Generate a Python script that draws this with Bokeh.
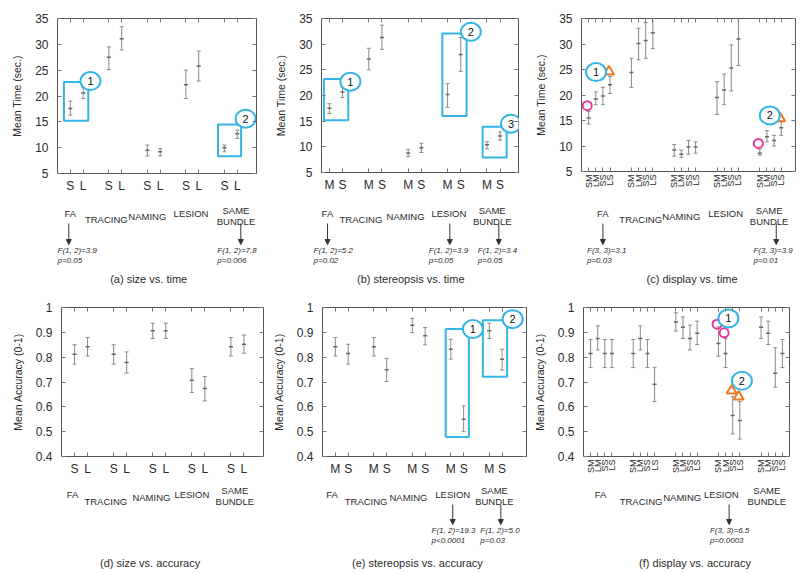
import numpy as np
from bokeh.plotting import figure
from bokeh.layouts import row, column
from bokeh.models import (FixedTicker, LinearAxis, Range1d, Arrow, NormalHead,
                          ColumnDataSource)
from bokeh.core.properties import value
from bokeh.embed import file_html
from bokeh.resources import INLINE

# ---------------- data ----------------
groups = ["FA", "TRACING", "NAMING", "LESION", "SAME\nBUNDLE"]
size_levels = ["S", "L"]
stereo_levels = ["M", "S"]
display_levels = ["SM", "LM", "SS", "LS"]

time_ticks = [5, 10, 15, 20, 25, 30, 35]
time_tick_labels = ["5", "10", "15", "20", "25", "30", "35"]
acc_ticks = [0.4, 0.5, 0.6, 0.7, 0.8, 0.9, 1.0]
acc_tick_labels = ["0.4", "0.5", "0.6", "0.7", "0.8", "0.9", "1"]

# (a) size vs. time
a_mean = [17.6, 20.6, 27.5, 31.1, 9.5, 9.2, 22.2, 25.8, 10.0, 12.7]
a_lo = [16.3, 19.5, 25.1, 28.9, 8.4, 8.4, 19.5, 22.9, 9.2, 11.8]
a_hi = [19.0, 21.6, 29.5, 33.4, 10.5, 9.8, 25.0, 28.7, 10.5, 13.4]

# (b) stereopsis vs. time
b_mean = [17.5, 20.7, 27.1, 31.3, 8.8, 9.8, 20.2, 28.0, 10.4, 12.1]
b_lo = [16.5, 19.6, 25.0, 29.0, 8.1, 8.9, 17.7, 24.7, 9.6, 11.3]
b_hi = [18.4, 21.6, 29.2, 33.7, 9.5, 10.7, 22.3, 31.3, 11.0, 12.9]

# (c) display vs. time
c_mean = [15.5, 19.2, 19.8, 22.0, 24.4, 30.1, 30.7, 32.2, 9.2, 8.4, 9.8, 9.8,
          19.5, 21.0, 25.3, 31.0, 8.6, 11.8, 11.1, 13.6]
c_lo = [14.3, 18.1, 18.1, 20.3, 21.5, 26.9, 27.2, 29.1, 8.0, 7.8, 8.4, 8.6,
        16.2, 18.1, 20.8, 25.8, 8.2, 10.8, 10.0, 12.1]
c_hi = [16.8, 20.6, 21.5, 23.6, 27.2, 33.1, 34.2, 35.1, 10.3, 9.2, 11.1, 10.8,
        22.6, 24.1, 29.8, 35.4, 9.4, 13.0, 12.1, 14.9]
c_circ_idx = [0, 16]
c_circ_val = [17.9, 10.5]
c_tri_idx = [3, 19]
c_tri_val = [24.6, 15.4]

# (d) size vs. accuracy
d_mean = [0.812, 0.842, 0.812, 0.779, 0.906, 0.906, 0.707, 0.674, 0.842, 0.852]
d_lo = [0.772, 0.805, 0.772, 0.736, 0.875, 0.875, 0.658, 0.624, 0.805, 0.816]
d_hi = [0.850, 0.879, 0.850, 0.821, 0.937, 0.937, 0.754, 0.722, 0.879, 0.889]

# (e) stereopsis vs. accuracy
e_mean = [0.842, 0.815, 0.842, 0.749, 0.929, 0.886, 0.832, 0.550, 0.906, 0.792]
e_lo = [0.805, 0.772, 0.805, 0.702, 0.899, 0.850, 0.792, 0.500, 0.875, 0.748]
e_hi = [0.879, 0.852, 0.879, 0.795, 0.956, 0.919, 0.872, 0.604, 0.937, 0.832]

# (f) display vs. accuracy
f_mean = [0.815, 0.875, 0.815, 0.815, 0.815, 0.875, 0.815, 0.691, 0.942, 0.920,
          0.875, 0.896, 0.855, 0.815, 0.565, 0.545, 0.920, 0.896, 0.735, 0.815]
f_lo = [0.758, 0.829, 0.758, 0.758, 0.758, 0.829, 0.758, 0.621, 0.905, 0.875,
        0.829, 0.851, 0.804, 0.758, 0.491, 0.470, 0.875, 0.851, 0.679, 0.758]
f_hi = [0.871, 0.926, 0.871, 0.871, 0.871, 0.926, 0.871, 0.759, 0.979, 0.962,
        0.929, 0.945, 0.922, 0.875, 0.641, 0.621, 0.962, 0.945, 0.838, 0.871]
f_circ_idx = [12, 13]
f_circ_val = [0.933, 0.898]
f_tri_idx = [14, 15]
f_tri_val = [0.665, 0.641]

# annotations (boxes, numbered circles, tests)
a_boxes = [(0.5, 2.4, 15.2, 22.7), (12.5, 14.3, 8.35, 14.5)]
a_marks = [(2.57, 22.9, "1"), (14.65, 15.6, "2")]
b_boxes = [(0.58, 2.44, 15.2, 23.2), (9.6, 11.45, 16.0, 32.1), (12.67, 14.5, 7.9, 13.9)]
b_marks = [(2.6, 22.7, "1"), (11.77, 32.4, "2"), (14.83, 14.5, "3")]
c_marks = [(2.04, 24.5, "1"), (26.4, 16.0, "2")]
e_boxes = [(9.6, 11.41, 0.479, 0.913), (12.5, 14.39, 0.721, 0.949)]
e_marks = [(11.72, 0.913, "1"), (14.82, 0.953, "2")]
f_marks = [(20.4, 0.956, "1"), (22.3, 0.705, "2")]

# group-label centres, in each panel's x units
a_gx = [1.0, 3.8, 7.0, 10.4, 13.9]
b_gx = [0.85, 3.4, 6.8, 10.1, 13.4]
c_gx = [3.0, 8.3, 14.0, 20.2, 26.3]
d_gx = [0.85, 3.4, 6.9, 10.0, 13.3]
e_gx = [0.75, 3.4, 6.7, 10.15, 13.4]
f_gx = [2.4, 8.1, 13.9, 19.4, 25.8]

# tests: (arrow x, text left x, F text, p text)
a_tests = [(0.88, 0.0, "F(1, 2)=3.9", "p=0.05"), (14.28, 12.45, "F(1, 2)=7.8", "p=0.006")]
b_tests = [(0.86, -0.2, "F(1, 2)=5.2", "p=0.02"), (10.17, 8.57, "F(1, 2)=3.9", "p=0.05"),
           (13.9, 12.3, "F(1, 2)=3.4", "p=0.05")]
c_tests = [(3.0, 0.77, "F(3, 3)=3.1", "p=0.03"), (27.3, 24.1, "F(3, 3)=3.9", "p=0.01")]
e_tests = [(10.15, 8.5, "F(1, 2)=19.3", "p<0.0001"), (13.9, 12.3, "F(1, 2)=5.0", "p=0.03")]
f_tests = [(20.5, 17.8, "F(3, 3)=6.5", "p=0.0003")]

captions = ["(a) size vs. time", "(b) stereopsis vs. time", "(c) display vs. time",
            "(d) size vs. accuracy", "(e) stereopsis vs. accuracy", "(f) display vs. accuracy"]

# ---------------- style ----------------
FONT = "Liberation Sans"
CYAN = "#35b4e6"
PINK = "#e8379a"
ORANGE = "#f07a1e"
EB = "#8a8a8a"
TXT = "#2a2a2a"
ARR = "#333333"
MAIN_BB = 24  # room for the tick labels under each frame


def make_panel(mean, lo, hi, levels, step, xr, yticks, yticklabels, ylabel,
               bl, fw, br, bt, fh, row_h, group_x, group_y, arrow_y, test_y, cap_x, caption,
               boxes=(), marks=(), tests=(), circ=None, tri=None, vertical=False):
    yr = (yticks[0], yticks[-1])
    width = bl + fw + br
    main_h = bt + fh + MAIN_BB
    p = figure(width=width, height=main_h,
               x_range=Range1d(*xr), y_range=Range1d(*yr),
               output_backend="svg", toolbar_location=None, tools="",
               min_border_left=bl, min_border_right=br, min_border_top=bt,
               min_border_bottom=MAIN_BB)
    p.xgrid.visible = False
    p.ygrid.visible = False
    p.outline_line_color = "#555555"
    p.outline_line_width = 1
    p.background_fill_color = "white"
    p.border_fill_color = "white"

    n = len(levels)
    pos = [g * step + i + 1 for g in range(len(groups)) for i in range(n)]
    labels = levels * len(groups)

    # axes
    xa = p.xaxis[0]
    xa.ticker = FixedTicker(ticks=pos)
    xa.major_label_overrides = {x: l for x, l in zip(pos, labels)}
    ya = p.yaxis[0]
    ya.ticker = FixedTicker(ticks=yticks)
    ya.major_label_overrides = {t: l for t, l in zip(yticks, yticklabels)}
    ya.axis_label = ylabel
    ya.axis_label_text_font = FONT
    ya.axis_label_text_font_size = "10.5px"
    ya.axis_label_text_font_style = "normal"
    ya.axis_label_text_color = TXT
    ya.axis_label_standoff = 9
    for ax in (xa, ya):
        ax.axis_line_color = None
        ax.major_tick_in = 4
        ax.major_tick_out = 0
        ax.major_tick_line_color = "#777777"
        ax.minor_tick_line_color = None
        ax.major_label_text_font = FONT
        ax.major_label_text_color = TXT
    ya.major_label_text_font_size = "12px"
    ya.major_label_standoff = 9
    if vertical:
        xa.major_label_orientation = np.pi / 2
        xa.major_label_text_font_size = "9px"
        xa.major_label_standoff = 3
    else:
        xa.major_label_text_font_size = "12px"
        xa.major_label_standoff = 5

    # mirrored ticks on the right and top (no labels)
    ra = LinearAxis(ticker=FixedTicker(ticks=yticks), major_tick_in=4, major_tick_out=0,
                    major_label_overrides={t: "" for t in yticks},
                    major_label_text_font_size="0px", major_label_standoff=0,
                    axis_line_color=None, minor_tick_line_color=None,
                    major_tick_line_color="#777777")
    p.add_layout(ra, "right")
    ta = LinearAxis(ticker=FixedTicker(ticks=pos), major_tick_in=4, major_tick_out=0,
                    major_label_overrides={t: "" for t in pos},
                    major_label_text_font_size="0px", major_label_standoff=0,
                    axis_line_color=None, minor_tick_line_color=None,
                    major_tick_line_color="#777777")
    p.add_layout(ta, "above")

    # error bars
    src = ColumnDataSource(dict(x=pos, m=mean, lo=lo, hi=hi))
    p.segment(x0="x", y0="lo", x1="x", y1="hi", source=src, line_color=EB, line_width=1)
    for col in ("lo", "hi"):
        p.scatter(x="x", y=col, source=src, marker="dash", size=4, line_color=EB, line_width=1)
    p.scatter(x="x", y="m", source=src, marker="dash", size=4, line_color="#666666",
              line_width=1.5)

    # highlight markers
    if circ is not None:
        idx, val = circ
        p.scatter([pos[i] - 0.2 for i in idx], val, marker="circle", size=9,
                  fill_color="white", fill_alpha=0.0, line_color=PINK, line_width=2)
    if tri is not None:
        idx, val = tri
        p.scatter([pos[i] - 0.15 for i in idx], val, marker="triangle", size=10,
                  fill_color="white", fill_alpha=0.0, line_color=ORANGE, line_width=2)

    # boxes and numbered circles
    if boxes:
        p.quad(left=[b[0] for b in boxes], right=[b[1] for b in boxes],
               bottom=[b[2] for b in boxes], top=[b[3] for b in boxes],
               fill_color=None, line_color=CYAN, line_width=2)
    if marks:
        p.ellipse(x=[m[0] for m in marks], y=[m[1] for m in marks], width=20, height=18,
                  width_units="screen", height_units="screen",
                  fill_color="white", line_color=CYAN, line_width=2)
        p.text(x=[m[0] for m in marks], y=[m[1] for m in marks], text=[m[2] for m in marks],
               text_align="center", text_baseline="middle", text_font_size="11px",
               text_color="#111111", text_font=value(FONT))

    # annotation strip under the plot: x = pixels from the panel's left edge,
    # y = -(pixels below the frame bottom)
    ann_h = row_h - main_h
    s = fw / (xr[1] - xr[0])

    def to_px(xv):
        return bl + (xv - xr[0]) * s

    q = figure(width=width, height=ann_h,
               x_range=Range1d(0, width),
               y_range=Range1d(-(MAIN_BB + ann_h), -MAIN_BB),
               output_backend="svg", toolbar_location=None, tools="",
               x_axis_location=None, y_axis_location=None,
               min_border_left=0, min_border_right=0, min_border_top=0, min_border_bottom=0)
    q.xgrid.visible = False
    q.ygrid.visible = False
    q.outline_line_color = None
    gsrc = ColumnDataSource(dict(x=[to_px(g) for g in group_x], y=[-g for g in group_y],
                                 t=groups))
    q.text(x="x", y="y", text="t", source=gsrc,
           text_align="center", text_baseline="middle", text_font=value(FONT),
           text_font_size="9.5px", text_color=TXT, text_line_height=1.0)
    if tests:
        for ax_x, tx, ftxt, ptxt in tests:
            q.add_layout(Arrow(x_start=to_px(ax_x), y_start=-arrow_y[0], x_end=to_px(ax_x),
                               y_end=-arrow_y[1], line_color=ARR, line_width=1,
                               end=NormalHead(size=5, fill_color=ARR, line_color=ARR)))
        q.text(x=[to_px(t[1]) for t in tests], y=[-test_y[0]] * len(tests),
               text=[t[2] for t in tests], text_align="left", text_baseline="middle",
               text_font=value(FONT), text_font_size="8px", text_font_style="italic",
               text_color=TXT)
        q.text(x=[to_px(t[1]) for t in tests], y=[-test_y[1]] * len(tests),
               text=[t[3] for t in tests], text_align="left", text_baseline="middle",
               text_font=value(FONT), text_font_size="8px", text_font_style="italic",
               text_color=TXT)
    q.text(x=[to_px(cap_x)], y=[-test_y[2]], text=[caption], text_align="center",
           text_baseline="middle", text_font=value(FONT), text_font_size="11px",
           text_color=TXT)
    return p, q


TOP_GY = [40, 46, 43, 40, 42]
BOT_GY = [38, 45, 41, 38, 39]
TOP_AR = (50, 71)
BOT_AR = (48, 68)
TOP_TY = (77, 87, 105)
BOT_TY = (74, 84, 106)
TOP_H = 290
BOT_H = 283

pa, qa = make_panel(a_mean, a_lo, a_hi, size_levels, 3, (0, 15.5), time_ticks, time_tick_labels,
                    "Mean Time (sec.)", 57, 199, 9, 18, 155, TOP_H,
                    a_gx, TOP_GY, TOP_AR, TOP_TY, 7.1, captions[0],
                    boxes=a_boxes, marks=a_marks, tests=a_tests)
pb, qb = make_panel(b_mean, b_lo, b_hi, stereo_levels, 3, (0.4, 15.4), time_ticks,
                    time_tick_labels, "Mean Time (sec.)", 56, 197, 10, 17, 155, TOP_H,
                    b_gx, TOP_GY, TOP_AR, TOP_TY, 7.2, captions[1],
                    boxes=b_boxes, marks=b_marks, tests=b_tests)
pc, qc = make_panel(c_mean, c_lo, c_hi, display_levels, 6, (0, 30), time_ticks, time_tick_labels,
                    "Mean Time (sec.)", 53, 214, 5, 12, 159, TOP_H,
                    c_gx, TOP_GY, TOP_AR, TOP_TY, 15.5, captions[2],
                    marks=c_marks, tests=c_tests, circ=(c_circ_idx, c_circ_val),
                    tri=(c_tri_idx, c_tri_val), vertical=True)
pd_, qd = make_panel(d_mean, d_lo, d_hi, size_levels, 3, (0, 15.5), acc_ticks, acc_tick_labels,
                     "Mean Accuracy (0-1)", 61, 202, 2, 15, 149, BOT_H,
                     d_gx, BOT_GY, BOT_AR, BOT_TY, 6.8, captions[3])
pe, qe = make_panel(e_mean, e_lo, e_hi, stereo_levels, 3, (0, 15.9), acc_ticks, acc_tick_labels,
                    "Mean Accuracy (0-1)", 57, 204, 2, 15, 149, BOT_H,
                    e_gx, BOT_GY, BOT_AR, BOT_TY, 7.4, captions[4],
                    boxes=e_boxes, marks=e_marks, tests=e_tests)
pf, qf = make_panel(f_mean, f_lo, f_hi, display_levels, 6, (0, 29), acc_ticks, acc_tick_labels,
                    "Mean Accuracy (0-1)", 55, 206, 11, 15, 149, BOT_H,
                    f_gx, BOT_GY, BOT_AR, BOT_TY, 15.7, captions[5],
                    marks=f_marks, tests=f_tests, circ=(f_circ_idx, f_circ_val),
                    tri=(f_tri_idx, f_tri_val), vertical=True)

layout = column(row(pa, pb, pc), row(qa, qb, qc), row(pd_, pe, pf), row(qd, qe, qf))
open("out.html", "w").write(file_html(layout, INLINE))
